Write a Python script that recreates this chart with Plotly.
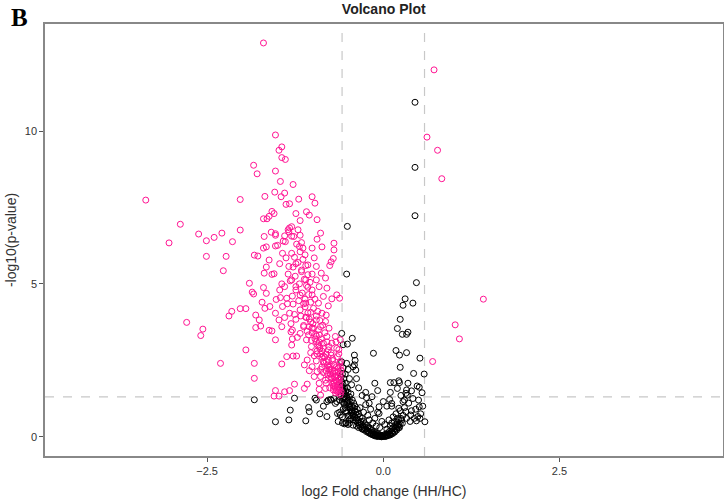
import plotly.graph_objects as go

# significant points (pink): log2 fold change, -log10 p
sig_x = [-1.70, 0.72, 0.62, 0.77, 0.83, 1.42, 1.02, 1.08, 0.70, -3.37, -2.88, -3.04, -2.62, -2.51, -2.40, -2.29,
         -2.14, -2.51, -2.23, -2.27, -2.03, -2.03, -2.79, -2.56, -2.59, -2.31, -2.19, -2.15, -2.03, -1.95, -1.95,
         -1.90, -1.86, -1.84, -1.83, -1.78, -1.84, -1.79, -1.68, -1.83, -1.83, -1.81, -1.81, -1.76, -1.74, -1.72,
         -1.70, -1.68, -1.66, -1.69, -1.66, -1.70, -1.66, -1.69, -1.70, -1.65, -1.62, -1.58, -1.55, -1.59, -1.53,
         -1.53, -1.62, -1.58, -1.55, -1.62, -1.58, -1.53, -1.53, -1.50, -1.53, -1.44, -1.48, -1.44, -1.39, -1.53,
         -1.46, -1.28, -1.54, -1.40, -1.45, -1.38, -1.33, -1.20, -1.01, -0.97, -1.24, -1.09, -1.18, -1.05, -0.94,
         -1.35, -1.33, -1.30, -1.21, -1.40, -1.30, -1.18, -0.89, -0.94, -1.39, -1.16, -1.19, -1.14, -1.01, -0.87,
         -0.70, -0.70, -1.43, -1.26, -1.11, -0.98, -0.74, -0.71, -1.47, -1.34, -1.24, -1.07, -0.95, -0.76, -1.35,
         -1.16, -1.01, -0.88, -1.30, -1.10, -0.95, -0.82, -1.40, -1.24, -1.07, -0.91, -0.80, -0.66, -0.62, -1.47,
         -1.52, -1.37, -1.18, -1.01, -0.85, -0.73, -1.43, -1.28, -1.10, -0.92, -0.78, -1.61, -1.53, -1.33, -1.18,
         -1.03, -0.87, -0.81, -1.48, -1.24, -1.10, -0.95, -0.82, -1.44, -1.29, -1.13, -1.01, -0.89, -0.77, -1.31,
         -1.18, -1.06, -0.91, -0.80, -0.68, -1.29, -1.09, -0.95, -0.85, -0.73, -0.61, -1.30, -1.02, -0.90, -0.78,
         -0.66, -1.03, -0.94, -0.85, -0.74, -0.63, -1.37, -1.28, -1.23, -1.08, -0.95, -0.81, -0.72, -0.61, -1.44,
         -1.12, -1.01, -0.87, -0.77, -0.66, -1.05, -0.94, -0.85, -0.75, -0.64, -0.60, -0.98, -0.89, -0.78, -0.69,
         -0.61, -0.91, -0.81, -0.70, -0.62, -1.26, -1.08, -1.12, -0.91, -0.82, -0.71, -0.62, -1.53, -1.40, -1.33,
         -1.55, -1.48, -0.89, -0.68, -0.60,
         -0.62, -0.63, -0.61, -0.64, -0.62, -0.65, -0.66, -0.67, -0.68, -0.69, -0.70, -0.71, -0.72, -0.73, -0.74,
         -0.75, -0.76, -0.77, -0.78, -0.79, -0.80, -0.81, -0.82, -0.83, -0.84, -0.85, -0.86, -0.87, -0.88, -0.89,
         -0.90, -0.91, -0.92, -0.93, -0.94, -0.95, -0.96, -0.97, -0.98, -0.99, -1.00, -1.01, -1.02, -1.03, -1.04,
         -1.05, -1.06, -1.07, -1.08, -1.09, -1.10, -1.11, -1.12, -1.13, -1.14, -1.15, -1.16, -1.17, -1.18, -1.19,
         -1.20, -1.21, -1.22, -1.23, -1.24, -1.25, -1.26, -1.27, -1.28, -1.29, -1.30, -1.31, -1.32, -1.34, -1.36,
         -1.38, -1.40, -1.42, -1.44, -1.46,
         -0.64, -0.66, -0.68, -0.70, -0.72, -0.74, -0.66, -0.69, -0.71, -0.73, -0.75, -0.77, -0.79, -0.81, -0.83,
         -0.85, -0.87, -0.89, -0.91, -0.93, -0.95, -0.97, -0.99, -1.01, -1.03, -1.05, -1.07, -1.09, -1.11, -1.13,
         -0.61, -0.63, -0.62, -0.64, -0.61, -0.65, -0.63, -0.67]
sig_y = [12.88, 12.00, 9.80, 9.37, 8.44, 4.50, 3.66, 3.20, 2.46, 7.74, 6.95, 6.34, 6.63, 6.41, 6.52, 6.66,
         6.38, 5.90, 5.90, 5.43, 6.76, 7.76, 3.74, 3.52, 3.31, 2.40, 3.95, 4.10, 4.19, 4.19, 2.84,
         5.02, 4.73, 4.67, 5.94, 5.91, 8.88, 8.60, 7.86, 2.40, 1.91, 3.98, 3.57, 3.82, 3.62, 4.40,
         4.88, 4.20, 4.69, 5.35, 5.55, 6.17, 6.21, 6.55, 7.13, 7.13, 7.21, 7.37, 7.30, 6.69, 6.64,
         6.59, 5.78, 5.31, 5.33, 3.48, 3.46, 3.17, 6.24, 6.26, 9.87, 9.48, 9.37, 9.13, 9.07, 8.69,
         8.35, 8.25, 8.00, 7.97, 7.85, 7.60, 7.62, 7.77, 7.85, 7.64, 7.30, 7.36, 7.07, 7.25, 7.10,
         6.77, 6.83, 6.87, 6.77, 6.57, 6.56, 6.59, 6.66, 6.46, 6.38, 6.35, 6.22, 6.17, 6.17, 6.21,
         6.33, 6.11, 6.00, 5.87, 5.95, 5.85, 5.72, 5.83, 5.66, 5.57, 5.66, 5.62, 5.57, 5.60, 5.32,
         5.40, 5.32, 5.35, 5.13, 5.13, 5.13, 5.19, 4.91, 4.91, 4.89, 4.91, 4.86, 4.64, 4.53, 4.80,
         4.49, 4.53, 4.63, 4.64, 4.59, 4.51, 4.26, 4.34, 4.37, 4.37, 4.28, 4.26, 4.04, 4.04, 4.15,
         4.07, 4.04, 3.98, 3.82, 3.84, 3.91, 3.82, 3.77, 3.60, 3.49, 3.64, 3.55, 3.60, 3.55, 3.43,
         3.38, 3.33, 3.33, 3.28, 3.28, 3.20, 3.17, 3.11, 3.06, 3.06, 3.17, 3.00, 2.95, 2.89, 2.84,
         2.89, 2.75, 2.71, 2.64, 2.67, 2.71, 2.62, 2.64, 2.64, 2.51, 2.48, 2.46, 2.49, 2.46, 2.38,
         2.35, 2.29, 2.29, 2.27, 2.29, 2.16, 2.13, 2.10, 2.16, 2.13, 2.18, 1.97, 1.97, 1.91, 1.99,
         1.94, 1.75, 1.75, 1.75, 1.77, 1.72, 1.72, 1.58, 1.55, 1.58, 1.53, 1.55, 1.51, 1.47, 1.51,
         1.33, 1.33, 1.36, 1.44, 1.47,
         1.62, 1.85, 2.05, 2.25, 2.40, 1.70, 2.00, 1.50, 1.85, 2.15, 2.35, 1.65, 2.55, 1.90, 2.75,
         2.30, 1.60, 2.95, 2.50, 2.05, 3.10, 2.70, 1.85, 3.40, 2.40, 2.90, 3.65, 2.60, 3.20, 2.20,
         3.80, 2.95, 3.50, 4.10, 2.80, 3.95, 3.35, 4.50, 2.65, 4.20, 3.70, 4.80, 3.15, 4.40, 5.05,
         3.85, 4.65, 5.30, 3.45, 4.95, 5.60, 4.25, 5.15, 3.60, 5.80, 4.70, 5.45, 3.95, 6.05, 5.00,
         4.45, 5.70, 3.25, 6.30, 4.80, 5.25, 4.00, 6.55, 5.55, 4.60, 6.00, 3.70, 5.10, 6.70, 4.35,
         5.85, 3.90, 6.40, 5.00, 4.55,
         1.45, 1.55, 1.65, 1.78, 1.72, 1.95, 1.80, 1.95, 2.08, 2.20, 2.05, 2.20, 2.35, 2.15, 2.60,
         2.45, 2.80, 2.70, 3.10, 3.00, 3.30, 3.20, 3.55, 3.40, 3.75, 3.60, 4.05, 3.90, 4.50, 4.35,
         1.38, 1.50, 1.72, 1.95, 2.30, 2.62, 2.85, 3.10]

# non-significant points (black)
ns_x = [0.45, 0.45, 0.45, 0.47, -0.51, -0.52, 0.31, 0.42, 0.28, 0.24, 0.20, 0.27, 0.33, 0.35, 0.18, 0.23,
        0.33, -0.14, 0.52, 0.24, 0.43, 0.58, -0.12, 0.10, 0.15, 0.22, 0.23, 0.20, 0.48, 0.51, 0.33, 0.32,
        0.34, 0.55, -0.24, -0.16, -0.08, 0.09, 0.12, 0.12, 0.28, 0.51, -0.06, -0.06, 0.22, 0.32, 0.39,
        0.49, 0.52, 0.59, 0.47, 0.20, 0.27, -1.26, -1.32, -1.53, -1.34, -1.10, -1.06, -1.05, -0.97, -0.95,
        -0.80, -0.78, -0.74, -0.68, -0.65, -0.61, -0.53, -0.48, -0.43, -0.59, -0.57, -0.51, -0.44, -0.41,
        -0.41, -0.39, -0.43, -1.83,
        -0.60, -0.59, -0.58, -0.57, -0.58, -0.56, -0.55, -0.56, -0.54, -0.53, -0.55, -0.52, -0.51, -0.50,
        -0.50, -0.49, -0.48, -0.47, -0.47, -0.46, -0.45, -0.44, -0.44, -0.43, -0.42, -0.42, -0.41, -0.40,
        -0.40, -0.39, -0.38, -0.37, -0.37, -0.36, -0.35, -0.34, -0.33, -0.32, -0.31, -0.30, -0.29, -0.28,
        -0.27, -0.26, -0.25, -0.24, -0.23, -0.22, -0.21, -0.20, -0.19, -0.18, -0.17, -0.16, -0.15, -0.14,
        -0.13, -0.12, -0.11, -0.10, -0.09, -0.08, -0.07, -0.06, -0.05, -0.04, -0.03, -0.02, -0.01, 0.00,
        0.01, 0.02, 0.03, 0.04, 0.05, 0.06, 0.07, 0.08, 0.09, 0.10, 0.11, 0.12, 0.13, 0.14, 0.15, 0.16,
        0.17, 0.18, 0.19, 0.20, 0.21, 0.22, 0.23, 0.24, 0.25,
        -0.58, -0.55, -0.53, -0.50, -0.57, -0.55, -0.53, -0.58, -0.56, -0.52, -0.48, -0.46, -0.45, -0.43,
        -0.38, -0.35, -0.30, -0.33, -0.28, -0.25, -0.22, -0.20, -0.18, -0.15, -0.12, -0.10, -0.08, -0.05,
        -0.02, 0.02, 0.05, 0.08, 0.10, 0.12, 0.14, 0.16, 0.18, 0.20, 0.22, 0.24, 0.26, 0.28, 0.30, 0.33,
        0.36, 0.38, 0.40, 0.42, 0.44, 0.46, 0.50, 0.53, 0.56, 0.30, 0.25, 0.35, 0.40, 0.05, 0.00, 0.10,
        -0.30, -0.25, -0.20, -0.40, -0.38, -0.35, -0.45, -0.48, -0.50, -0.52, -0.54, -0.57, -0.59, -0.62,
        -0.66, -0.70, -0.75, -0.80, -0.85, -0.90, -0.62, -0.58, -0.64,
        -0.59, -0.57, -0.55, -0.53, -0.51, -0.49, -0.47, -0.45, -0.43, -0.41, -0.39, -0.36, -0.34, -0.32,
        -0.29, -0.27, -0.24, -0.21, -0.18, -0.15, -0.12, -0.09, -0.06, -0.03, 0.03, 0.06, 0.09, 0.13, 0.16,
        0.19, 0.22, -0.60, -0.58, -0.56, -0.54, -0.52, -0.50, -0.48]
ns_y = [10.94, 8.81, 7.23, 5.04, 6.88, 5.32, 4.51, 4.37, 4.30, 3.84, 3.54, 3.35, 3.35, 3.42, 2.82, 2.67,
        2.75, 2.73, 2.57, 2.27, 2.07, 2.05, 1.75, 1.77, 1.77, 1.83, 1.77, 1.58, 1.66, 1.62, 1.53, 1.42,
        1.36, 1.44, 1.28, 1.31, 1.51, 1.22, 1.09, 1.00, 1.15, 0.98, 0.98, 0.76, 0.93, 0.82, 0.71,
        0.66, 0.60, 0.49, 0.52, 0.38, 0.44, 1.26, 0.87, 0.49, 0.55, 0.52, 0.96, 0.82, 1.26, 1.20,
        0.66, 1.20, 1.20, 1.09, 0.76, 0.71, 0.46, 0.44, 0.38, 3.38, 3.01, 3.03, 3.22, 2.67,
        2.35, 2.18, 2.29, 1.21,
        1.95, 1.80, 2.05, 1.70, 1.55, 1.90, 1.60, 1.45, 1.75, 1.50, 1.30, 1.35, 1.60, 1.20,
        1.45, 1.05, 1.30, 1.15, 0.95, 1.40, 1.00, 0.85, 1.20, 0.95, 0.75, 1.10, 0.85, 0.65,
        1.00, 0.80, 0.60, 0.90, 0.70, 0.55, 0.75, 0.45, 0.65, 0.50, 0.40, 0.60, 0.35, 0.50,
        0.30, 0.42, 0.25, 0.38, 0.20, 0.32, 0.18, 0.28, 0.14, 0.24, 0.10, 0.20, 0.12, 0.06,
        0.16, 0.08, 0.04, 0.12, 0.05, 0.02, 0.09, 0.03, 0.06, 0.01, 0.04, 0.00, 0.02, 0.05,
        0.01, 0.03, 0.08, 0.02, 0.06, 0.12, 0.04, 0.09, 0.18, 0.06, 0.13, 0.25, 0.10, 0.20, 0.32, 0.15,
        0.28, 0.40, 0.22, 0.48, 0.34, 0.55, 0.30, 0.42, 0.60,
        0.45, 0.42, 0.44, 0.40, 0.90, 1.05, 0.85, 1.15, 1.25, 1.10, 0.70, 0.60, 0.78, 0.55,
        0.35, 0.30, 0.25, 0.95, 0.80, 1.05, 0.70, 0.55, 0.90, 0.45, 0.60, 0.35, 0.80, 0.30,
        0.50, 0.40, 0.25, 0.55, 0.35, 0.45, 0.65, 0.50, 0.75, 0.60, 0.30, 0.85, 0.55, 0.70, 0.95, 0.60,
        1.10, 0.50, 0.85, 1.25, 0.60, 0.90, 1.20, 0.75, 1.00, 1.20, 1.35, 1.75, 1.50, 1.00, 1.15, 1.45,
        1.35, 1.45, 1.10, 2.50, 1.90, 1.60, 1.70, 1.90, 2.20, 2.40, 2.05, 2.25, 2.45, 1.20,
        1.15, 1.25, 1.22, 1.15, 1.00, 0.75, 0.80, 0.65, 0.50,
        1.65, 1.52, 1.40, 1.25, 1.15, 1.00, 0.90, 0.82, 0.70, 0.62, 0.52, 0.45, 0.38, 0.32,
        0.27, 0.22, 0.17, 0.13, 0.09, 0.06, 0.03, 0.01, 0.02, 0.00, 0.01, 0.04, 0.08, 0.12, 0.18,
        0.26, 0.38, 1.35, 1.25, 1.10, 0.95, 0.80, 0.68, 0.55]

fc_cut = 0.585
p_cut = 1.301

fig = go.Figure()
fig.add_trace(go.Scatter(x=ns_x, y=ns_y, mode="markers",
                         marker=dict(symbol="circle-open", size=6, color="black", line=dict(width=1))))
fig.add_trace(go.Scatter(x=sig_x, y=sig_y, mode="markers",
                         marker=dict(symbol="circle-open", size=6, color="#ff1493", line=dict(width=1))))

dash = dict(color="#c8c8c8", width=1.2, dash="dash")
fig.add_vline(x=-fc_cut, line=dash, layer="below")
fig.add_vline(x=fc_cut, line=dash, layer="below")
fig.add_hline(y=p_cut, line=dash, layer="below")

fig.update_layout(
    template="none",
    width=724, height=500,
    margin=dict(l=45, r=1, t=24, b=44, autoexpand=False),
    plot_bgcolor="white", paper_bgcolor="white",
    showlegend=False,
    font=dict(family="Liberation Sans, Arial, sans-serif", color="#333"),
    title=dict(text="<b>Volcano Plot</b>", x=0.53, xanchor="center", y=0.982, yanchor="middle",
               font=dict(size=14, color="#222")),
)
fig.add_annotation(text="<b>B</b>", xref="paper", yref="paper", x=-0.037, y=1.014,
                   xanchor="center", yanchor="middle", showarrow=False,
                   font=dict(family="Liberation Serif, Times New Roman, serif", size=25, color="black"))

fig.update_xaxes(range=[-4.8, 4.82], tickvals=[-2.5, 0, 2.5], tickformat=".1f", automargin=False,
                 showgrid=False, zeroline=False, showline=True, mirror=True,
                 linecolor="#888", linewidth=1.5, ticks="outside", ticklen=4, tickcolor="#555",
                 tickfont=dict(size=11, color="#333"),
                 title=dict(text="log2 Fold change (HH/HC)", font=dict(size=14, color="#333"), standoff=10))
fig.update_yaxes(range=[-0.63, 13.5], tickvals=[0, 5, 10], automargin=False,
                 showgrid=False, zeroline=False, showline=True, mirror=True,
                 linecolor="#888", linewidth=1.5, ticks="outside", ticklen=4, tickcolor="#555",
                 tickfont=dict(size=11, color="#333"),
                 title=dict(text="-log10(p-value)", font=dict(size=14, color="#333"), standoff=5))

# drop the default page margin so the figure sits at the window's top-left corner
fig.write_html("out.html", config={"displayModeBar": False},
               post_script="document.body.style.margin='0';")
